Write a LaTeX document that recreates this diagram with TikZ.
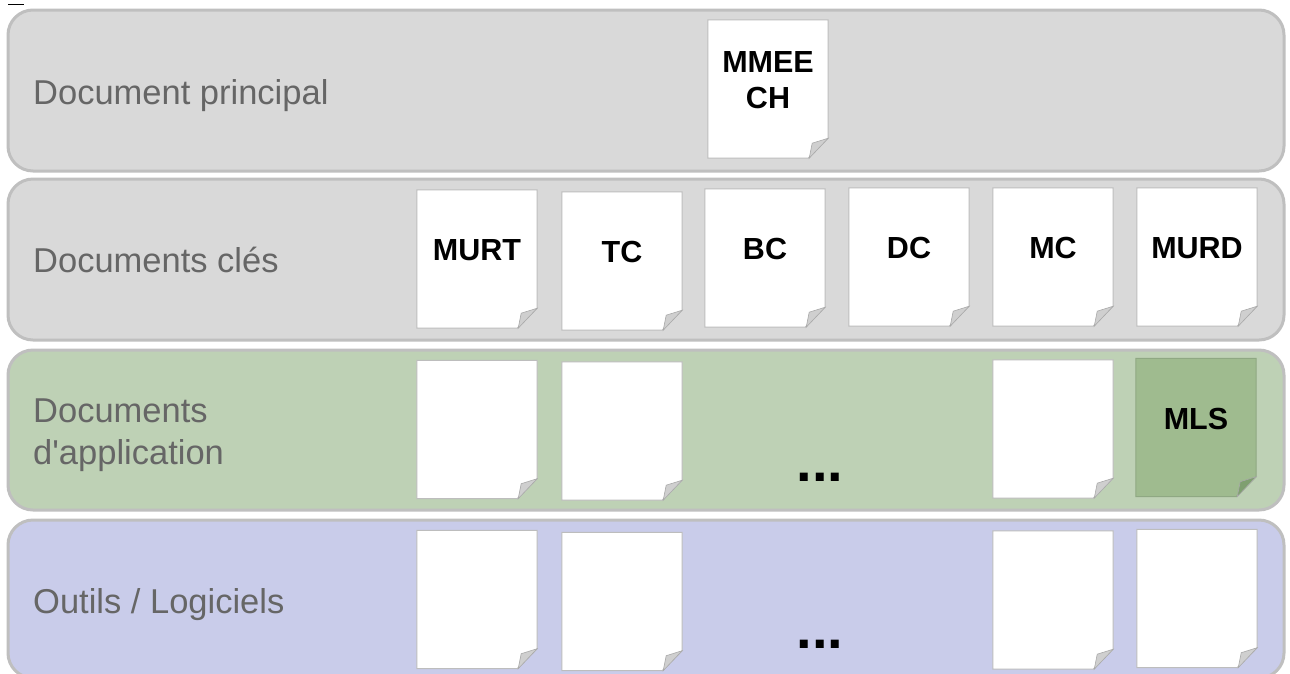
\documentclass[tikz,border=0pt]{standalone}
\usepackage{fontspec}
\setmainfont{Liberation Sans}[Ligatures=TeXOff]
\definecolor{bandgray}{HTML}{D9D9D9}
\definecolor{bandline}{HTML}{BFBFBF}
\definecolor{bandgreen}{HTML}{BED1B5}
\definecolor{bandblue}{HTML}{C9CCEA}
\definecolor{labelgray}{HTML}{666666}
\definecolor{pageline}{HTML}{BDBDBD}
\definecolor{foldgray}{HTML}{CFCFCF}
\definecolor{foldline}{HTML}{A9A9A9}
\definecolor{mlsfill}{HTML}{9FBB8F}
\definecolor{mlsfold}{HTML}{7F9F70}
\definecolor{mlsline}{HTML}{8FA883}
\tikzset{
  band/.style={rounded corners=25pt, draw=bandline, line width=3pt},
  pagebox/.style={rectangle, minimum width=120pt, minimum height=138pt, inner sep=0pt, draw=none},
  bandlabel/.style={anchor=base west, inner sep=0pt, text=labelgray, font=\fontsize{34.5}{42}\selectfont, align=left},
  doclabel/.style={inner sep=0pt, font=\bfseries\fontsize{30.5}{36.5}\selectfont, align=center},
  dotslabel/.style={anchor=base, inner sep=0pt, font=\bfseries\fontsize{56}{56}\selectfont},
}
% #1 name, #2 cx, #3 cy, #4 page fill, #5 page line, #6 fold fill, #7 label
\newcommand{\docpage}[7]{%
  \node[pagebox] (#1) at (#2,#3) {};
  \filldraw[fill=#4, draw=#5, line width=1pt]
    (#1.north west) -- (#1.north east) -- ([yshift=20pt]#1.south east)
    -- ([xshift=-20pt]#1.south east) -- (#1.south west) -- cycle;
  \filldraw[fill=#6, draw=foldline, line width=0.6pt]
    ([yshift=20pt]#1.south east) -- ([xshift=-16pt,yshift=15pt]#1.south east)
    -- ([xshift=-19pt]#1.south east) -- cycle;
  \node[doclabel] (#1t) at ([yshift=9pt]#1.center) {#7};
}
\begin{document}
\begin{tikzpicture}[x=1pt,y=-1pt]
\useasboundingbox (0,0) rectangle (1290,673);
\clip (0,0) rectangle (1290,673);
\fill[white] (0,0) rectangle (1290,673);
\coordinate (dashA) at (8,4.5);
\coordinate (dashB) at (24,4.5);
\draw[black, line width=1.2pt] (dashA) -- (dashB);
% bands
\filldraw[band, fill=bandgray] (8,10) rectangle (1284,171);
\filldraw[band, fill=bandgray] (8,179) rectangle (1284,340);
\filldraw[band, fill=bandgreen] (8,350) rectangle (1284,510);
\filldraw[band, fill=bandblue] (8,520) rectangle (1284,678);
% band labels
\node[bandlabel] (l1) at (33,104) {Document principal};
\node[bandlabel] (l2) at (33,272) {Documents clés};
\node[bandlabel] (l3) at (33,464) {Documents\\d'application};
\node[bandlabel] (l4) at (33,613) {Outils / Logiciels};
% row 1
\docpage{mmee}{768}{89}{white}{pageline}{foldgray}{MMEE\\CH}
% row 2
\docpage{murt}{477}{259}{white}{pageline}{foldgray}{MURT}
\docpage{tc}{622}{261}{white}{pageline}{foldgray}{TC}
\docpage{bc}{765}{258}{white}{pageline}{foldgray}{BC}
\docpage{dc}{909}{257}{white}{pageline}{foldgray}{DC}
\docpage{mc}{1053}{257}{white}{pageline}{foldgray}{MC}
\docpage{murd}{1197}{257}{white}{pageline}{foldgray}{MURD}
% row 3
\docpage{a1}{477}{429.5}{white}{pageline}{foldgray}{}
\docpage{a2}{622}{431}{white}{pageline}{foldgray}{}
\docpage{a3}{1053}{429}{white}{pageline}{foldgray}{}
\docpage{mls}{1196}{427.5}{mlsfill}{mlsline}{mlsfold}{MLS}
\node[dotslabel] (dots3) at (820,481) {...};
% row 4
\docpage{o1}{477}{599.5}{white}{pageline}{foldgray}{}
\docpage{o2}{622}{601.5}{white}{pageline}{foldgray}{}
\docpage{o3}{1053}{600}{white}{pageline}{foldgray}{}
\docpage{o4}{1197}{598.5}{white}{pageline}{foldgray}{}
\node[dotslabel] (dots4) at (820,648) {...};
\end{tikzpicture}
\end{document}
